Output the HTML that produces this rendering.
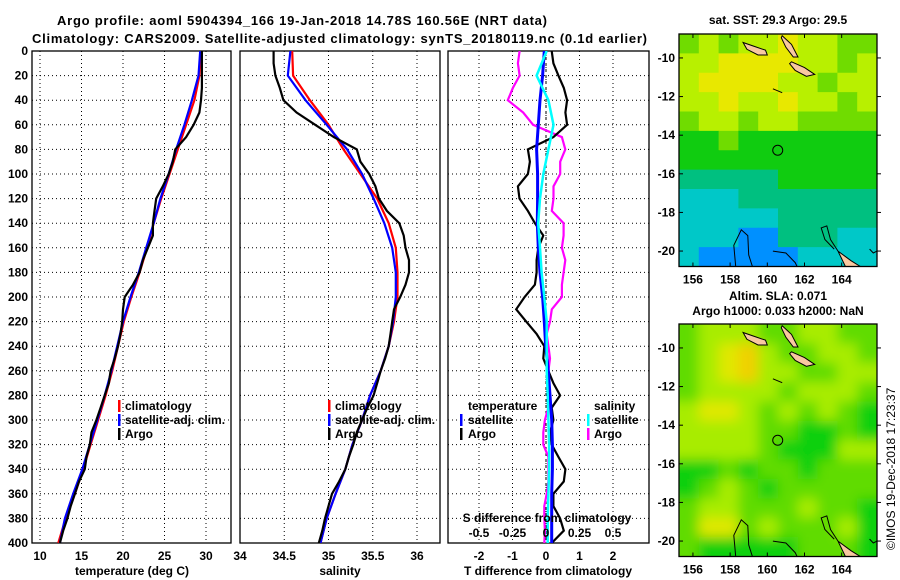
<!DOCTYPE html>
<html><head><meta charset="utf-8"><style>
html,body{margin:0;padding:0;background:#fff;}
svg{display:block;font-family:"Liberation Sans",sans-serif;font-weight:bold;}
</style></head><body>
<svg id="fig" width="900" height="580" viewBox="0 0 900 580" xmlns="http://www.w3.org/2000/svg">
<defs>
<clipPath id="c1"><rect x="32" y="51" width="199" height="492"/></clipPath>
<clipPath id="c2"><rect x="240" y="51" width="200" height="492"/></clipPath>
<clipPath id="c3"><rect x="448" y="51" width="201" height="492"/></clipPath>
<clipPath id="m1"><rect x="679" y="34" width="198" height="233"/></clipPath>
<clipPath id="m2"><rect x="679" y="324" width="198" height="232"/></clipPath>
<filter id="blur" x="-5%" y="-5%" width="110%" height="110%"><feGaussianBlur stdDeviation="6"/></filter>
</defs>
<text x="57" y="25" font-size="13" textLength="490">Argo profile: aoml 5904394_166 19-Jan-2018 14.78S 160.56E (NRT data)</text>
<text x="32" y="43" font-size="13" textLength="615">Climatology: CARS2009. Satellite-adjusted climatology: synTS_20180119.nc (0.1d earlier)</text>
</svg>
<script>
// ---- data ----
const depth20 = [0,20,40,60,80,100,120,140,160,180,200,220,240,260,280,300,320,340,360,380,400];
const depth10 = [0,10,20,30,40,50,60,70,80,90,100,110,120,130,140,150,160,170,180,190,200,210,220,230,240,250,260,270,280,290,300,310,320,330,340,350,360,370,380,390,400];
const tempClim = [29.4,29.2,28.6,27.6,26.6,25.6,24.6,23.7,22.9,22.0,21.0,20.1,19.4,18.7,17.9,17.0,16.1,15.2,14.2,13.1,12.2];
const tempSat  = [29.3,29.1,28.3,27.4,26.4,25.5,24.5,23.7,22.8,21.9,20.9,20.0,19.3,18.6,17.8,16.9,16.0,15.1,14.0,13.0,12.4];
const tempArgo = [29.5,29.5,29.5,29.5,29.4,29.2,28.5,27.6,26.3,26.0,25.5,24.8,24.0,23.8,23.6,23.6,23.0,22.4,22.0,21.2,20.2,20.0,19.9,19.7,19.4,19.0,18.5,18.3,17.8,17.3,16.8,16.2,16.0,15.6,15.4,14.7,14.2,13.7,13.3,12.8,12.4];
const salClim = [34.59,34.60,34.79,35.0,35.17,35.36,35.55,35.68,35.76,35.78,35.78,35.74,35.68,35.59,35.47,35.38,35.27,35.19,35.08,34.98,34.91];
const salSat  = [34.57,34.54,34.74,34.98,35.21,35.38,35.51,35.63,35.72,35.76,35.76,35.73,35.68,35.59,35.47,35.38,35.27,35.19,35.08,34.98,34.91];
const salArgo = [34.38,34.38,34.40,34.45,34.49,34.64,34.85,35.06,35.32,35.36,35.46,35.53,35.57,35.66,35.80,35.85,35.87,35.91,35.91,35.87,35.81,35.74,35.72,35.70,35.68,35.64,35.59,35.55,35.51,35.44,35.38,35.32,35.28,35.23,35.19,35.12,35.04,35.0,34.96,34.93,34.89];
const dTSat  = [-0.05,-0.1,-0.18,-0.23,-0.28,-0.25,-0.25,-0.26,-0.23,-0.18,-0.1,-0.05,-0.01,0.07,0.12,0.17,0.19,0.19,0.17,0.17,0.17];
const dTArgo = [0.17,0.22,0.37,0.53,0.63,0.58,0.63,0.22,-0.54,-0.48,-0.54,-0.84,-0.79,-0.54,-0.33,-0.08,-0.23,-0.28,-0.28,-0.33,-0.64,-0.89,-0.59,-0.28,-0.05,-0.08,0.07,0.22,0.42,0.17,0.22,0.12,0.17,0.37,0.58,0.53,0.22,0.22,0.42,0.53,0.17];
const dSSat  = [0.005,-0.07,0.018,0.056,0.018,-0.02,-0.045,-0.058,-0.045,-0.033,-0.013,0.005,0.005,0.005,0.013,0.018,0.023,0.023,0.018,0.013,0.013];
const dSArgo = [-0.197,-0.21,-0.197,-0.247,-0.285,-0.17,-0.096,0.119,0.144,0.106,0.106,0.056,0.056,0.043,0.131,0.131,0.119,0.144,0.131,0.119,0.119,0.043,0.03,0.005,0.018,0.03,0.018,0.018,0.03,0.018,-0.008,-0.02,-0.02,0.018,0.018,0.018,0.005,-0.013,-0.013,-0.008,-0.013];
const depthTicks = [0,20,40,60,80,100,120,140,160,180,200,220,240,260,280,300,320,340,360,380,400];
const tempTicks = [10,15,20,25,30];
const salTicks = [34,34.5,35,35.5,36];
const salTickLabels = ["34","34.5","35","35.5","36"];
const dTTicks = [-2,-1,0,1,2];
const dSTicks = [-0.5,-0.25,0,0.25,0.5];
const dSTickLabels = ["-0.5","-0.25","0","0.25","0.5"];
// maps: rows from north (-9) to south (-20), 10 columns west->east; digits are colour levels
const sstRows = ["5656676655","6677776656","6777766566","6676676656","5665665555","4454444444","4444444444","3333344444","2223333333","2222233333","2221133322","2111112222"];
const slaRows = ["5666556655","5678655665","5678665566","5666656665","6776565654","6666554454","6666544466","4454554555","4565455555","5665556554","5775655564","5444445554"];
const lonTicks = [156,158,160,162,164];
const latTicks = [-10,-12,-14,-16,-18,-20];
const argoLon = 160.56, argoLat = -14.78;

// ---- helpers ----
const NS = "http://www.w3.org/2000/svg";
const svg = document.getElementById("fig");
function mk(tag, attrs, parent) {
  const e = document.createElementNS(NS, tag);
  for (const k in attrs) e.setAttribute(k, attrs[k]);
  (parent || svg).appendChild(e);
  return e;
}
const Y0 = 51, Y1 = 543;
const yD = d => Y0 + (d / 400) * (Y1 - Y0);
const xT = t => 40 + (t - 10) * 8.3;
const xS = s => 240 + (s - 34) * 88.5;
const xdT = t => 546 + t * 33.5;
const xdS = s => 546 + s * 134;

function panel(name, x0, x1, xf, ticks, labels, clip) {
  const g = mk("g", {});
  
  
  for (const d of depthTicks) {
    if (d === 0 || d === 400) continue;
    const l = mk("line", {x1: x0, x2: x1, y1: yD(d), y2: yD(d), stroke: "#000", "stroke-width": 1, "stroke-dasharray": "1 3"}, g);
    
    
  }
  ticks.forEach((t, i) => {
    const x = xf(t);
    if (x > x0 + 2 && x < x1 - 2) {
      const l = mk("line", {x1: x, x2: x, y1: Y0, y2: Y1, stroke: "#000", "stroke-width": 1, "stroke-dasharray": "1 3"}, g);
      
      
    }
    const tx = mk("text", {x: x, y: 560, "font-size": 12, "text-anchor": "middle"}, g);
    tx.textContent = labels ? labels[i] : String(t);
    
    
  });
  const r = mk("rect", {x: x0, y: Y0, width: x1 - x0, height: Y1 - Y0, fill: "none", stroke: "#000", "stroke-width": 1.3}, g);
  
  
  return g;
}
function line(g, xs, ds, xf, color, clip, nm, w) {
  const pts = xs.map((v, i) => xf(v).toFixed(1) + "," + yD(ds[i]).toFixed(1)).join(" ");
  const p = mk("polyline", {points: pts, fill: "none", stroke: color, "stroke-width": w || 2.2, "clip-path": "url(#" + clip + ")"}, g);
  
  
}
function txt(g, x, y, s, size, nm, anchor) {
  const t = mk("text", {x: x, y: y, "font-size": size, "text-anchor": anchor || "start"}, g);
  t.textContent = s;
  
  
  return t;
}
function legBar(g, x, y, color, nm) {
  const r = mk("rect", {x: x, y: y - 10, width: 2.5, height: 12, fill: color}, g);
  
  
}

// ---- panel 1: temperature ----
const g1 = panel("temperature", 32, 231, xT, tempTicks, null, "c1");
depthTicks.forEach(d => {
  const t = txt(g1, 28, yD(d) + 4, String(d), 12, 'depth-tick-label', 'end');
});
line(g1, tempClim, depth20, xT, "#ff0000", "c1", "temp-climatology-line");
line(g1, tempSat, depth20, xT, "#0000ff", "c1", "temp-satellite-line");
line(g1, tempArgo, depth10, xT, "#000000", "c1", "temp-argo-line");
txt(g1, 132, 575, "temperature (deg C)", 12, 'x-axis-title', 'middle');
legBar(g1, 118, 410, "#ff0000", 'legend-swatch-climatology'); txt(g1, 125, 410, "climatology", 12, 'legend-climatology');
legBar(g1, 118, 424, "#0000ff", 'legend-swatch-satellite'); txt(g1, 125, 424, "satellite-adj. clim.", 12, 'legend-satellite');
legBar(g1, 118, 438, "#000000", 'legend-swatch-argo'); txt(g1, 125, 438, "Argo", 12, 'legend-argo');

// ---- panel 2: salinity ----
const g2 = panel("salinity", 240, 440, xS, salTicks, salTickLabels, "c2");
line(g2, salClim, depth20, xS, "#ff0000", "c2", "sal-climatology-line");
line(g2, salSat, depth20, xS, "#0000ff", "c2", "sal-satellite-line");
line(g2, salArgo, depth10, xS, "#000000", "c2", "sal-argo-line");
txt(g2, 340, 575, "salinity", 12, 'x-axis-title', 'middle');
legBar(g2, 328, 410, "#ff0000", 'legend-swatch-climatology'); txt(g2, 335, 410, "climatology", 12, 'legend-climatology');
legBar(g2, 328, 424, "#0000ff", 'legend-swatch-satellite'); txt(g2, 335, 424, "satellite-adj. clim.", 12, 'legend-satellite');
legBar(g2, 328, 438, "#000000", 'legend-swatch-argo'); txt(g2, 335, 438, "Argo", 12, 'legend-argo');

// ---- panel 3: differences ----
const g3 = panel("difference", 448, 649, xdT, dTTicks, null, "c3");
const zl = mk("line", {x1: xdT(0), x2: xdT(0), y1: Y0, y2: Y1, stroke: "#000", "stroke-width": 1, "stroke-dasharray": "3 3"}, g3);


line(g3, dSArgo, depth10, xdS, "#ff00ff", "c3", "sal-diff-argo-line");
line(g3, dTArgo, depth10, xdT, "#000000", "c3", "temp-diff-argo-line");
line(g3, dTSat, depth20, xdT, "#0000ff", "c3", "temp-diff-satellite-line", 3);
line(g3, dSSat, depth20, xdS, "#00ffff", "c3", "sal-diff-satellite-line", 2.5);
dSTicks.forEach((s, i) => txt(g3, xdS(s), 537, dSTickLabels[i], 12, 's-diff-tick-label', 'middle'));
txt(g3, 547, 522, "S difference from climatology", 12, 's-diff-axis-title', 'middle');
txt(g3, 548, 575, "T difference from climatology", 12, 'x-axis-title', 'middle');
txt(g3, 468, 410, "temperature", 12, 'legend-temperature-header');
legBar(g3, 460, 424, "#0000ff", 'legend-swatch-t-satellite'); txt(g3, 468, 424, "satellite", 12, 'legend-t-satellite');
legBar(g3, 460, 438, "#000000", 'legend-swatch-t-argo'); txt(g3, 468, 438, "Argo", 12, 'legend-t-argo');
txt(g3, 594, 410, "salinity", 12, 'legend-salinity-header');
legBar(g3, 587, 424, "#00ffff", 'legend-swatch-s-satellite'); txt(g3, 594, 424, "satellite", 12, 'legend-s-satellite');
legBar(g3, 587, 438, "#ff00ff", 'legend-swatch-s-argo'); txt(g3, 594, 438, "Argo", 12, 'legend-s-argo');

// ---- maps ----
const sstColors = ["#0050e0","#0090ff","#00c8c8","#00c080","#10cc10","#70dc00","#b8f000","#e8e800","#f0a000"];
const slaColors = ["#0050e0","#0090ff","#00c8c8","#00c080","#10d010","#60dc00","#a8ec00","#e0e800","#f0d000"];
const LON0 = 155.25, LON1 = 165.9, LAT0 = -8.76, LAT1 = -20.8;
const islands = [
  [[158.7,-9.2],[159.3,-9.4],[159.9,-9.6],[160.0,-9.85],[159.5,-9.85],[158.9,-9.55]],
  [[160.8,-8.85],[161.3,-9.3],[161.65,-9.95],[161.4,-9.95],[161.0,-9.45],[160.75,-8.95]],
  [[161.3,-10.2],[162.0,-10.5],[162.55,-10.85],[162.1,-10.95],[161.5,-10.65],[161.2,-10.3]],
  [[163.8,-20.0],[164.5,-20.5],[165.0,-20.8],[164.2,-20.8]]
];
const contours = [
  [[158.3,-20.8],[158.2,-19.7],[158.6,-18.9],[158.95,-19.2],[159.0,-20.2],[159.2,-20.8]],
  [[163.6,-19.9],[163.1,-19.4],[162.9,-18.8],[163.2,-18.7],[163.4,-19.4],[163.8,-20.0]],
  [[160.3,-20.0],[161.0,-20.1],[161.5,-20.6],[161.6,-20.8]],
  [[165.5,-19.9],[165.7,-20.1],[165.9,-20.0]],
  [[160.3,-11.6],[160.8,-11.8]]
];
function drawMap(name, top, rows, colors, clip, blur, titleLines) {
  const h = 232.5;
  const lx = lon => 679 + (lon - LON0) / (LON1 - LON0) * 198;
  const ly = lat => top + (lat - LAT0) / (LAT1 - LAT0) * h;
  const g = mk("g", {});
  
  
  const cells = mk("g", {"clip-path": "url(#" + clip + ")"}, g);
  const inner = mk("g", blur ? {filter: "url(#blur)"} : {}, cells);
  const nr = rows.length, nc = rows[0].length;
  const cw = 198 / nc, ch = h / nr;
  rows.forEach((row, r) => {
    for (let c = 0; c < nc; c++) {
      const pad = blur ? 12 : 0;
      const x = 679 + c * cw - (c === 0 ? pad : 0), y = top + r * ch - (r === 0 ? pad : 0);
      const w = cw + 0.5 + (c === 0 || c === nc - 1 ? pad : 0), hh = ch + 0.5 + (r === 0 || r === nr - 1 ? pad : 0);
      const cell = mk("rect", {x: x, y: y, width: w, height: hh, fill: colors[+row[c]]}, inner);
      
      
    }
  });
  islands.forEach(isl => {
    const p = mk("polygon", {points: isl.map(q => lx(q[0]).toFixed(1) + "," + ly(q[1]).toFixed(1)).join(" "), fill: "#f8c8a0", stroke: "#000", "stroke-width": 1}, cells);
    
    
  });
  contours.forEach(cn => {
    const p = mk("polyline", {points: cn.map(q => lx(q[0]).toFixed(1) + "," + ly(q[1]).toFixed(1)).join(" "), fill: "none", stroke: "#000", "stroke-width": 1}, cells);
    
    
  });
  const m = mk("circle", {cx: lx(argoLon), cy: ly(argoLat), r: 5, fill: "none", stroke: "#000", "stroke-width": 1}, g);
  
  
  const fr = mk("rect", {x: 679, y: top, width: 198, height: h, fill: "none", stroke: "#000", "stroke-width": 1.3}, g);
  
  
  lonTicks.forEach(lo => {
    const tl = mk("line", {x1: lx(lo), x2: lx(lo), y1: top + h, y2: top + h - 4, stroke: "#000"}, g);
    
    
    const tt = mk("line", {x1: lx(lo), x2: lx(lo), y1: top, y2: top + 4, stroke: "#000"}, g);
    
    
    txt(g, lx(lo), top + h + 17, String(lo), 12, 'lon-tick-label', 'middle');
  });
  latTicks.forEach(la => {
    const tl = mk("line", {x1: 679, x2: 683, y1: ly(la), y2: ly(la), stroke: "#000"}, g);
    
    
    const tr = mk("line", {x1: 877, x2: 881, y1: ly(la), y2: ly(la), stroke: "#000"}, g);
    
    
    txt(g, 675, ly(la) + 4, String(la), 12, 'lat-tick-label', 'end');
  });
  titleLines.forEach((s, i) => txt(g, 778, titleLines.length === 1 ? top - 10 : top - 24 + i * 15, s, 12, 'map-title', 'middle'));
}
drawMap("sst-map", 34, sstRows, sstColors, "m1", false, ["sat. SST: 29.3 Argo: 29.5"]);
drawMap("sla-map", 324, slaRows, slaColors, "m2", true, ["Altim. SLA: 0.071", "Argo h1000: 0.033 h2000: NaN"]);
const cp = mk("text", {x: 0, y: 0, "font-size": 12, "font-weight": "normal", transform: "translate(895,550) rotate(-90)"});
cp.textContent = "©IMOS 19-Dec-2018 17:23:37";


</script>
</body></html>
